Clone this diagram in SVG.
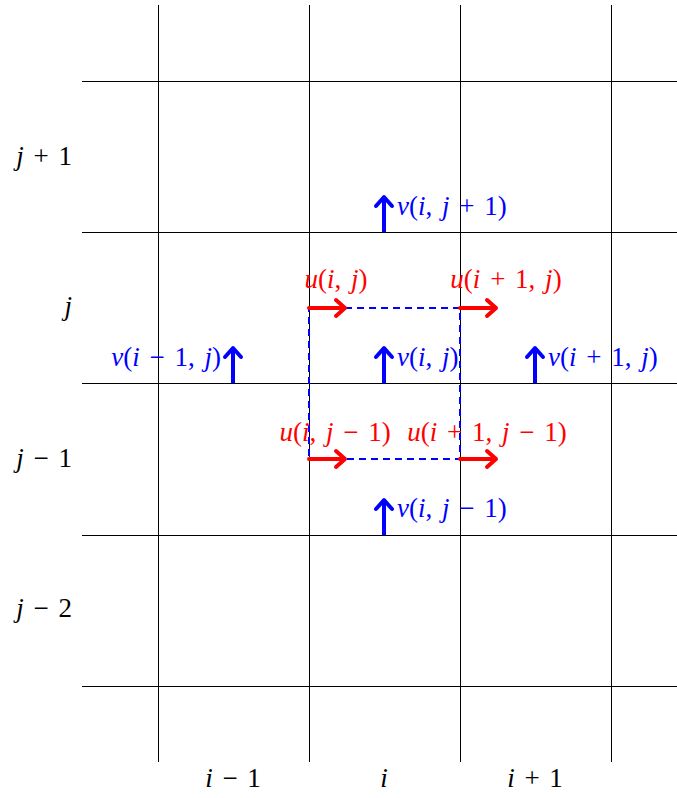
<svg xmlns="http://www.w3.org/2000/svg" width="677" height="798" viewBox="0 0 677 798">
<style>
.grid{stroke:#000;stroke-width:1;fill:none}
.t{font-family:'Liberation Serif','Times New Roman','DejaVu Serif',serif;font-size:27px;word-spacing:3px}
.it{font-style:italic}
.red{fill:#ff0000}
.blue{fill:#0000ff}
.ua{stroke:#ff0000;stroke-width:4;fill:none;stroke-linecap:round;stroke-linejoin:round}
.va{stroke:#0000ff;stroke-width:4;fill:none;stroke-linecap:butt;stroke-linejoin:round}
.vh{stroke:#0000ff;stroke-width:4;fill:none;stroke-linecap:round;stroke-linejoin:round}
.cell{stroke:#0000ff;stroke-width:2;fill:none;stroke-dasharray:7,5}
</style>
<rect width="677" height="798" fill="#fff"/>
<g id="grid">
<path class="grid" d="M158.5,5V762M309.5,5V762M460.5,5V762M611.5,5V762"/>
<path class="grid" d="M82,81.5H677M82,232.5H677M82,383.5H677M82,535.5H677M82,686.5H677"/>
</g>
<g id="axis-labels" class="t">
<text x="72" y="165" text-anchor="end"><tspan class="it">j</tspan> + 1</text>
<text x="72" y="315" text-anchor="end"><tspan class="it">j</tspan></text>
<text x="72" y="467" text-anchor="end"><tspan class="it">j</tspan> − 1</text>
<text x="72" y="617" text-anchor="end"><tspan class="it">j</tspan> − 2</text>
<text x="233" y="787" text-anchor="middle"><tspan class="it">i</tspan> − 1</text>
<text x="384" y="787" text-anchor="middle"><tspan class="it">i</tspan></text>
<text x="535" y="787" text-anchor="middle"><tspan class="it">i</tspan> + 1</text>
</g>
<g id="cell">
<rect class="cell" x="309" y="308" width="151" height="151"/>
</g>
<g id="connectors">
<g id="u-arrows">
<path class="ua" d="M309,308H345M336,300l9,8l-9,8"/>
<path class="ua" d="M460,308H496M487,300l9,8l-9,8"/>
<path class="ua" d="M309,459H345M336,451l9,8l-9,8"/>
<path class="ua" d="M460,459H496M487,451l9,8l-9,8"/>
</g>
<g id="v-arrows">
<path class="va" d="M384,232V197"/><path class="vh" d="M376,206l8,-9l8,9"/>
<path class="va" d="M384,383V348"/><path class="vh" d="M376,357l8,-9l8,9"/>
<path class="va" d="M233,383V348"/><path class="vh" d="M225,357l8,-9l8,9"/>
<path class="va" d="M535,383V348"/><path class="vh" d="M527,357l8,-9l8,9"/>
<path class="va" d="M384,535V500"/><path class="vh" d="M376,509l8,-9l8,9"/>
</g>
</g>
<g id="u-labels" class="t red">
<text x="336" y="288" text-anchor="middle"><tspan class="it">u</tspan>(<tspan class="it">i</tspan>, <tspan class="it">j</tspan>)</text>
<text x="506" y="288" text-anchor="middle"><tspan class="it">u</tspan>(<tspan class="it">i</tspan> + 1, <tspan class="it">j</tspan>)</text>
<text x="335" y="441" text-anchor="middle"><tspan class="it">u</tspan>(<tspan class="it">i</tspan>, <tspan class="it">j</tspan> − 1)</text>
<text x="487" y="441" text-anchor="middle"><tspan class="it">u</tspan>(<tspan class="it">i</tspan> + 1, <tspan class="it">j</tspan> − 1)</text>
</g>
<g id="v-labels" class="t blue">
<text x="397" y="215"><tspan class="it">v</tspan>(<tspan class="it">i</tspan>, <tspan class="it">j</tspan> + 1)</text>
<text x="397" y="366"><tspan class="it">v</tspan>(<tspan class="it">i</tspan>, <tspan class="it">j</tspan>)</text>
<text x="221" y="366" text-anchor="end"><tspan class="it">v</tspan>(<tspan class="it">i</tspan> − 1, <tspan class="it">j</tspan>)</text>
<text x="548" y="366"><tspan class="it">v</tspan>(<tspan class="it">i</tspan> + 1, <tspan class="it">j</tspan>)</text>
<text x="397" y="517"><tspan class="it">v</tspan>(<tspan class="it">i</tspan>, <tspan class="it">j</tspan> − 1)</text>
</g>
</svg>
